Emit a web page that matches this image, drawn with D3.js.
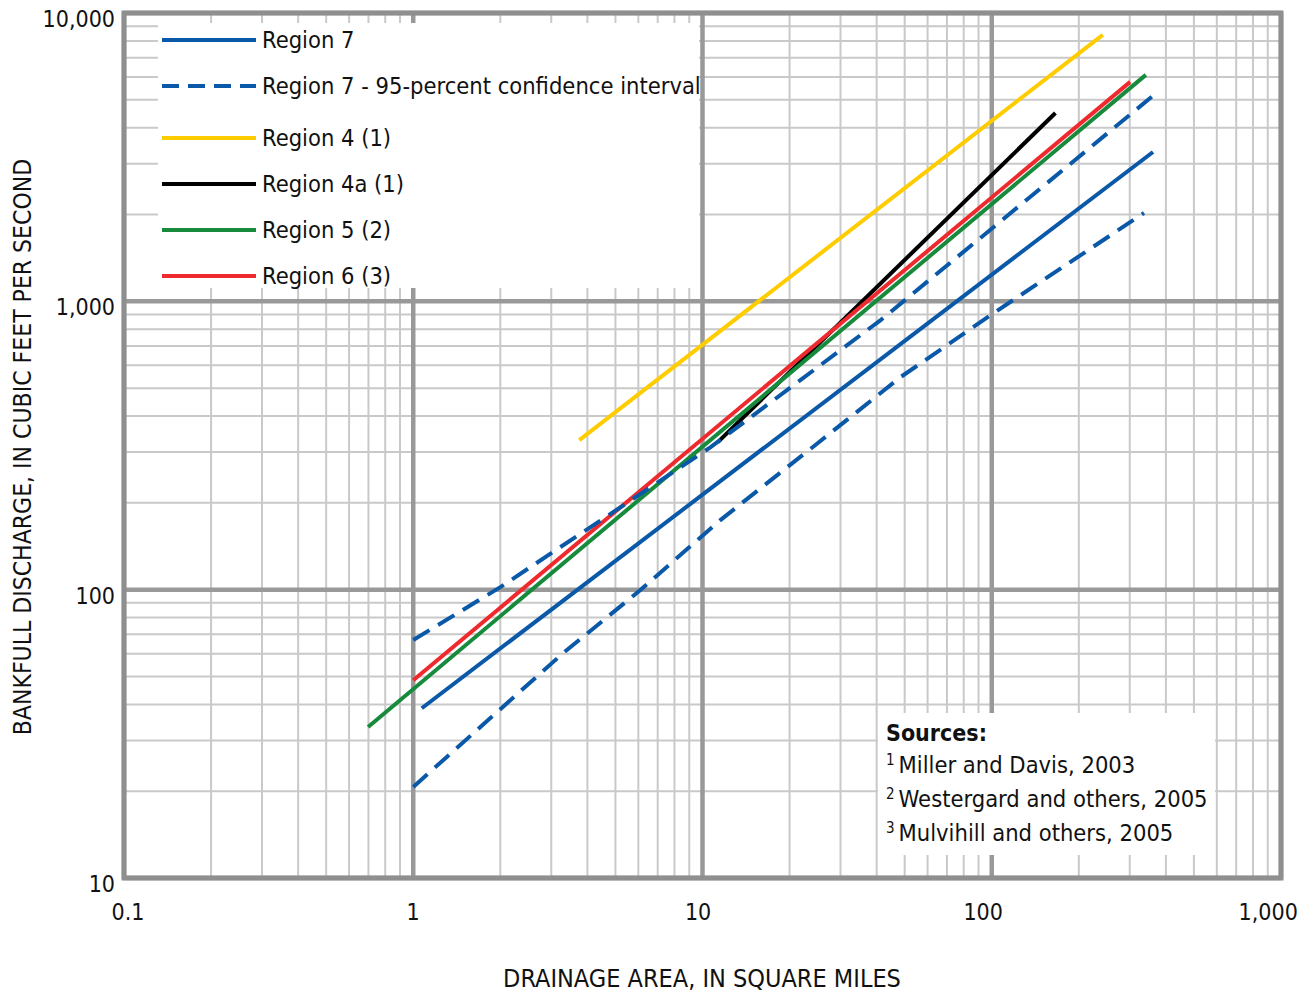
<!DOCTYPE html>
<html>
<head>
<meta charset="utf-8">
<script src="https://cdn.jsdelivr.net/npm/d3@7"></script>
<style>
  body { margin: 0; background: #fff; }
  text { font-family: "Liberation Sans Narrow", "Arial Narrow", "DejaVu Sans Condensed", sans-serif; fill: #111; }
</style>
</head>
<body>
<div id="chart"></div>
<script>
// Drainage area (sq mi) vs bankfull discharge (cfs)
const region7 = [[1.07, 38.8], [361, 3296]];
const region7Upper = [[1.0, 66.9], [2.0, 102], [3.23, 140.6], [5.2, 193], [8.4, 266], [10.67, 312],
  [41.3, 861], [101.6, 1811], [363.6, 5195]];
const region7Lower = [[1.0, 20.7], [3.3, 60.3], [6.1, 99.7], [11.5, 174], [25, 322], [48.4, 546],
  [101.6, 911], [336, 2025]];
const region4 = [[3.75, 330], [242, 8400]];
const region4a = [[11.3, 325], [166, 4500]];
const region5 = [[0.698, 33.4], [341, 6100]];
const region6 = [[1.0, 48.5], [301, 5770]];

const legendLabels = ['Region 7', 'Region 7 - 95-percent confidence interval', 'Region 4 (1)',
  'Region 4a (1)', 'Region 5 (2)', 'Region 6 (3)'];
const xTickLabels = ['0.1', '1', '10', '100', '1,000'];
const yTickLabels = ['10', '100', '1,000', '10,000'];
const sourceLines = [['1', 'Miller and Davis, 2003'], ['2', 'Westergard and others, 2005'], ['3', 'Mulvihill and others, 2005']];

const width = 1306;
const height = 995;
const blue = '#0a58a8';

const svg = d3.select('#chart').append('svg')
  .attr('width', width)
  .attr('height', height);

const x = d3.scaleLog().domain([0.1, 1000]).range([124, 1281]);
const y = d3.scaleLog().domain([10, 10000]).range([878, 13]);

const isMajor = v => Math.abs(Math.log10(v) - Math.round(Math.log10(v))) < 1e-9;

// Grid, minor lines first
const grid = svg.append('g');
grid.selectAll('.vminor')
  .data(x.ticks().filter(v => !isMajor(v)))
  .join('line')
  .attr('x1', d => x(d)).attr('x2', d => x(d))
  .attr('y1', y.range()[1]).attr('y2', y.range()[0])
  .attr('stroke', '#c9c9c9').attr('stroke-width', 2);
grid.selectAll('.hminor')
  .data(y.ticks().filter(v => !isMajor(v)))
  .join('line')
  .attr('y1', d => y(d)).attr('y2', d => y(d))
  .attr('x1', x.range()[0]).attr('x2', x.range()[1])
  .attr('stroke', '#c9c9c9').attr('stroke-width', 2);

grid.append('g').selectAll('line')
  .data(x.ticks().filter(isMajor))
  .join('line')
  .attr('x1', d => x(d)).attr('x2', d => x(d))
  .attr('y1', y.range()[1]).attr('y2', y.range()[0])
  .attr('stroke', '#999').attr('stroke-width', 4.5);
grid.append('g').selectAll('line')
  .data(y.ticks().filter(isMajor))
  .join('line')
  .attr('y1', d => y(d)).attr('y2', d => y(d))
  .attr('x1', x.range()[0]).attr('x2', x.range()[1])
  .attr('stroke', '#999').attr('stroke-width', 4.5);

// Legend and sources boxes hide the grid (legend stops short of the line at 10)
svg.append('rect').attr('x', 158).attr('y', 23).attr('width', 541).attr('height', 265).attr('fill', '#fff');
svg.append('rect').attr('x', 878).attr('y', 713).attr('width', 337).attr('height', 142).attr('fill', '#fff');

// Frame
svg.append('rect')
  .attr('x', x.range()[0]).attr('y', y.range()[1])
  .attr('width', x.range()[1] - x.range()[0])
  .attr('height', y.range()[0] - y.range()[1])
  .attr('fill', 'none').attr('stroke', '#8f8f8f').attr('stroke-width', 5);

// Axes labels
svg.append('g').selectAll('text')
  .data(x.ticks().filter(isMajor))
  .join('text')
  .attr('x', (d, i) => x(d) + 4 - 4.2 * i)
  .attr('y', 920)
  .attr('text-anchor', 'middle')
  .attr('font-size', 23)
  .text((d, i) => xTickLabels[i]);

svg.append('g').selectAll('text')
  .data(y.ticks().filter(isMajor))
  .join('text')
  .attr('x', 115)
  .attr('y', d => y(d) + 14)
  .attr('text-anchor', 'end')
  .attr('font-size', 23)
  .text((d, i) => yTickLabels[i]);

svg.append('text')
  .attr('x', 702).attr('y', 987)
  .attr('text-anchor', 'middle')
  .attr('font-size', 25)
  .text('DRAINAGE AREA, IN SQUARE MILES');

svg.append('text')
  .attr('transform', 'translate(31, 447) rotate(-90)')
  .attr('text-anchor', 'middle')
  .attr('font-size', 24.5)
  .text('BANKFULL DISCHARGE, IN CUBIC FEET PER SECOND');

// Lines
const line = d3.line().x(d => x(d[0])).y(d => y(d[1]));
const series = [
  { data: region4, color: '#ffcc00' },
  { data: region4a, color: '#000' },
  { data: region5, color: '#178a3c' },
  { data: region6, color: '#ee2a2e' },
  { data: region7, color: blue },
  { data: region7Upper, color: blue, dash: '19 10' },
  { data: region7Lower, color: blue, dash: '19 10' },
];
svg.append('g').selectAll('path')
  .data(series)
  .join('path')
  .attr('d', d => line(d.data))
  .attr('fill', 'none')
  .attr('stroke', d => d.color)
  .attr('stroke-width', 4)
  .attr('stroke-dasharray', d => d.dash || null);

// Legend
const legendColors = [blue, blue, '#ffcc00', '#000', '#178a3c', '#ee2a2e'];
const legendY = [40, 86, 138, 184, 230, 276];
const legend = svg.append('g').selectAll('g')
  .data(legendLabels)
  .join('g')
  .attr('transform', (d, i) => `translate(0, ${legendY[i]})`);
legend.append('line')
  .attr('x1', 162).attr('x2', 256)
  .attr('stroke', (d, i) => legendColors[i])
  .attr('stroke-width', 4)
  .attr('stroke-dasharray', (d, i) => i === 1 ? '17 9' : null);
legend.append('text')
  .attr('x', 262).attr('y', 8)
  .attr('font-size', 23.5)
  .text(d => d);

// Sources
svg.append('text')
  .attr('x', 886).attr('y', 741)
  .attr('font-size', 23)
  .attr('font-weight', 'bold')
  .text('Sources:');
const src = svg.append('g').selectAll('text')
  .data(sourceLines)
  .join('text')
  .attr('x', 886)
  .attr('y', (d, i) => 773 + i * 34)
  .attr('font-size', 23.5);
src.append('tspan').attr('font-size', 15).attr('dy', -8).text(d => d[0]);
src.append('tspan').attr('dy', 8).attr('dx', 4).text(d => d[1]);
</script>
</body>
</html>
